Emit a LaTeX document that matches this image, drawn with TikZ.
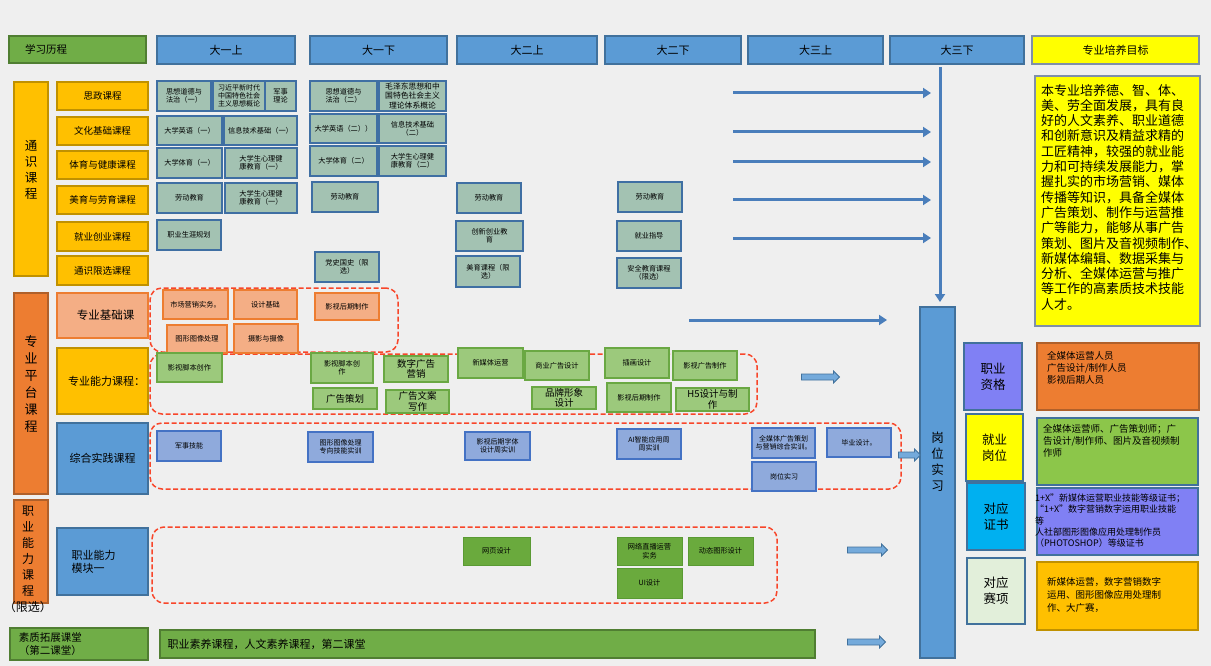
\documentclass[tikz,border=0pt]{standalone}
\usepackage{fontspec}
\setmainfont{Noto Sans CJK SC}
\usetikzlibrary{shapes.arrows,arrows.meta}
\definecolor{bg}{HTML}{EFEFEF}
\definecolor{hblue}{HTML}{5B9BD5}
\definecolor{hblueD}{HTML}{41719C}
\definecolor{gold}{HTML}{FFC000}
\definecolor{goldD}{HTML}{C09100}
\definecolor{org}{HTML}{ED7D31}
\definecolor{orgD}{HTML}{B0602A}
\definecolor{hgrn}{HTML}{70AD47}
\definecolor{hgrnD}{HTML}{507E32}
\definecolor{crsF}{HTML}{A3C2B2}
\definecolor{crsD}{HTML}{3F6FA3}
\definecolor{salF}{HTML}{F4AE85}
\definecolor{salD}{HTML}{ED7D31}
\definecolor{lgrF}{HTML}{9CC97C}
\definecolor{lgrD}{HTML}{6AA843}
\definecolor{dgrF}{HTML}{6AAA3D}
\definecolor{dgrD}{HTML}{5A9A33}
\definecolor{purF}{HTML}{8FAADC}
\definecolor{purD}{HTML}{4472C4}
\definecolor{dred}{HTML}{F8462A}
\definecolor{arrC}{HTML}{4A7EBB}
\definecolor{slate}{HTML}{8080F4}
\definecolor{cyanB}{HTML}{00B0F0}
\definecolor{ygrn}{HTML}{8CC64A}
\definecolor{ltgrn}{HTML}{E2EFDA}
\definecolor{yel}{HTML}{FFFF00}
\definecolor{goalD}{HTML}{7F8FA9}
\newcommand\fs[2]{\fontsize{#1}{#2}\selectfont}
\newcommand\bx[7]{\node[#2,minimum width={(#5-#3)*1pt},minimum height={(#6-#4)*1pt}] (#1) at ({(#3+#5)/2},{(#4+#6)/2}) {#7};}
\begin{document}
\begin{tikzpicture}[x=1pt,y=-1pt,
  every node/.style={inner sep=1pt,outer sep=0pt,align=center},
  hdr/.style={fill=hblue,draw=hblueD,line width=1.4pt,font=\fs{11}{12}},
  hdrg/.style={fill=hgrn,draw=hgrnD,line width=1.4pt,font=\fs{10.5}{12}},
  lab/.style={fill=gold,draw=goldD,line width=1.2pt,font=\fs{9.5}{11}},
  bigo/.style={fill=org,draw=orgD,line width=1.2pt},
  bigb/.style={fill=hblue,draw=hblueD,line width=1.2pt,font=\fs{11}{13}},
  crs/.style={fill=crsF,draw=crsD,line width=1.3pt,font=\fs{7.2}{8.3}},
  sal/.style={fill=salF,draw=salD,line width=1.3pt,font=\fs{7.2}{8.5}},
  lgr/.style={fill=lgrF,draw=lgrD,line width=1.3pt,font=\fs{7.2}{8.5}},
  lgrb/.style={lgr,font=\fs{9.5}{10.5}},
  dgr/.style={fill=dgrF,draw=dgrD,line width=1pt,font=\fs{7.2}{8.5}},
  pur/.style={fill=purF,draw=purD,line width=1.3pt,font=\fs{7}{8.3}},
  region/.style={draw=dred,line width=1.5pt,dash pattern=on 5pt off 2.5pt,rounded corners=12pt},
  arr/.style={draw=arrC,line width=3pt,-{Triangle[length=8pt,width=10pt]}},
  barr/.style={single arrow,fill=hblue!85!white,draw=hblueD,line width=0.8pt,minimum height=38pt,minimum width=12pt,single arrow head extend=3pt,inner xsep=0pt,inner ysep=2.6pt},
  side/.style={draw=hblueD,line width=1.2pt,font=\fs{12.5}{16}},
  info/.style={anchor=north west,align=left,font=\fs{9.5}{12.2},inner sep=0pt}]
\useasboundingbox (0,0) rectangle (1211,666);
\fill[bg] (0,0) rectangle (1211,666);
% headers
\bx{h0}{hdrg,text width=105pt,align=left}{9}{36}{146}{63}{学习历程}
\bx{h1}{hdr}{157}{36}{295}{64}{大一上}
\bx{h2}{hdr}{310}{36}{447}{64}{大一下}
\bx{h3}{hdr}{457}{36}{597}{64}{大二上}
\bx{h4}{hdr}{605}{36}{741}{64}{大二下}
\bx{h5}{hdr}{748}{36}{883}{64}{大三上}
\bx{h6}{hdr}{890}{36}{1024}{64}{大三下}
\bx{h7}{hdr,fill=yel,draw=goalD}{1032}{36}{1199}{64}{专业培养目标}
% left big categories
\bx{ts}{lab}{14}{82}{48}{276}{}
\node[font=\fs{12.5}{16}] (tsT) at (31,170) {通\\识\\课\\程};
\bx{zp}{bigo}{14}{293}{48}{494}{}
\node[font=\fs{13}{17}] (zpT) at (31,384) {专\\业\\平\\台\\课\\程};
\bx{zn}{bigo}{14}{500}{48}{603}{}
\node[font=\fs{12}{16}] (znT) at (28,559) {职\\业\\能\\力\\课\\程\\（限选）};
% sub labels
\bx{l1}{lab}{57}{82}{148}{110}{思政课程}
\bx{l2}{lab}{57}{117}{148}{145}{文化基础课程}
\bx{l3}{lab}{57}{151}{148}{179}{体育与健康课程}
\bx{l4}{lab}{57}{186}{148}{214}{美育与劳育课程}
\bx{l5}{lab}{57}{222}{148}{251}{就业创业课程}
\bx{l6}{lab}{57}{256}{148}{285}{通识限选课程}
\bx{l7}{fill=salF,draw=salD,line width=1.2pt,font=\fs{11.5}{13}}{57}{293}{148}{338}{\hspace*{6pt}专业基础课}
\bx{l8}{lab,font=\fs{11}{13}}{57}{348}{148}{414}{\hspace*{8pt}专业能力课程：}
\bx{l9}{bigb}{57}{423}{148}{494}{综合实践课程}
\bx{l10}{bigb,text width=62pt,align=left}{57}{528}{148}{595}{职业能力\\模块一}
\bx{l11}{hdrg,line width=1.2pt,text width=120pt,align=left,font=\fs{10.5}{13}}{10}{628}{148}{660}{素质拓展课堂\\（第二课堂）}
\bx{bar}{hdrg,line width=1.2pt,text width=640pt,align=left,font=\fs{11}{13}}{160}{630}{815}{658}{职业素养课程，人文素养课程，第二课堂}
% dashed regions
\bx{r1}{region}{150}{288}{398}{352}{}
\bx{r2}{region}{150}{354}{757}{414}{}
\bx{r3}{region}{150}{423}{901}{489}{}
\bx{r4}{region}{152}{527}{777}{603}{}
% general courses
\bx{c11}{crs}{157}{81}{211}{111}{思想道德与\\法治（一）}
\bx{c12}{crs,font=\fs{7}{8.2}}{213}{81}{265}{111}{习近平新时代\\中国特色社会\\主义思想概论}
\bx{c13}{crs}{265}{81}{296}{111}{军事\\理论}
\bx{c14}{crs}{310}{81}{377}{111}{思想道德与\\法治（二）}
\bx{c15}{crs,font=\fs{7.8}{9.2}}{379}{81}{446}{111}{毛泽东思想和中\\国特色社会主义\\理论体系概论}
\bx{c21}{crs}{157}{116}{222}{145}{大学英语（一）}
\bx{c22}{crs}{224}{116}{297}{145}{信息技术基础（一）}
\bx{c23}{crs}{310}{114}{377}{143}{大学英语（二））}
\bx{c24}{crs}{379}{114}{446}{143}{信息技术基础\\（二）}
\bx{c31}{crs}{157}{148}{222}{178}{大学体育（一）}
\bx{c32}{crs}{225}{148}{297}{178}{大学生心理健\\康教育（一）}
\bx{c33}{crs}{310}{146}{377}{176}{大学体育（二）}
\bx{c34}{crs}{379}{146}{446}{176}{大学生心理健\\康教育（二）}
\bx{c41}{crs}{157}{183}{222}{213}{劳动教育}
\bx{c42}{crs}{225}{183}{297}{213}{大学生心理健\\康教育（一）}
\bx{c43}{crs}{312}{182}{378}{212}{劳动教育}
\bx{c44}{crs}{457}{183}{521}{213}{劳动教育}
\bx{c45}{crs}{618}{182}{682}{212}{劳动教育}
\bx{c51}{crs}{157}{220}{221}{250}{职业生涯规划}
\bx{c52}{crs}{456}{221}{523}{251}{创新创业教\\育}
\bx{c53}{crs}{617}{221}{681}{251}{就业指导}
\bx{c61}{crs}{315}{252}{379}{282}{党史国史（限\\选）}
\bx{c62}{crs}{456}{256}{520}{287}{美育课程（限\\选）}
\bx{c63}{crs}{617}{258}{681}{288}{安全教育课程\\（限选）}
% professional basics
\bx{s1}{sal}{163}{290}{228}{319}{市场营销实务。}
\bx{s2}{sal}{234}{290}{297}{319}{设计基础}
\bx{s3}{sal}{315}{293}{379}{320}{影视后期制作}
\bx{s4}{sal}{167}{325}{227}{353}{图形图像处理}
\bx{s5}{sal}{234}{324}{298}{353}{摄影与摄像}
% professional ability
\bx{g1}{lgr}{157}{353}{222}{382}{影视脚本创作}
\bx{g2}{lgr}{311}{353}{373}{383}{影视脚本创\\作}
\bx{g3}{lgrb}{384}{356}{448}{382}{数字广告\\营销}
\bx{g4}{lgrb}{313}{388}{377}{409}{广告策划}
\bx{g5}{lgrb}{386}{390}{449}{413}{广告文案\\写作}
\bx{g6}{lgr}{458}{348}{523}{378}{新媒体运营}
\bx{g7}{lgr}{525}{351}{589}{380}{商业广告设计}
\bx{g8}{lgr}{605}{348}{669}{378}{插画设计}
\bx{g9}{lgr}{673}{351}{737}{380}{影视广告制作}
\bx{g10}{lgrb}{532}{387}{596}{409}{品牌形象\\设计}
\bx{g11}{lgr}{607}{383}{671}{412}{影视后期制作}
\bx{g12}{lgrb}{676}{388}{749}{411}{H5设计与制\\作}
% practice
\bx{p1}{pur}{157}{431}{221}{461}{军事技能}
\bx{p2}{pur}{308}{432}{373}{462}{图形图像处理\\专向技能实训}
\bx{p3}{pur}{465}{432}{530}{460}{影视后期字体\\设计周实训}
\bx{p4}{pur}{617}{429}{681}{459}{AI智能应用周\\周实训}
\bx{p5}{pur}{752}{428}{815}{458}{全媒体广告策划\\与营销综合实训。}
\bx{p6}{pur}{827}{428}{891}{457}{毕业设计。}
\bx{p7}{pur}{752}{462}{816}{491}{岗位实习}
% vocational module
\bx{d1}{dgr}{463}{537}{530}{565}{网页设计}
\bx{d2}{dgr}{617}{537}{682}{565}{网络直播运营\\实务}
\bx{d3}{dgr}{688}{537}{753}{565}{动态图形设计}
\bx{d4}{dgr}{617}{568}{682}{598}{UI设计}
% internship column
\bx{gw}{fill=hblue,draw=hblueD,line width=1.2pt}{920}{307}{955}{658}{}
\node[font=\fs{12.5}{16}] (gwT) at (937.5,462) {岗\\位\\实\\习};
% arrows
\coordinate (v0) at (940,67);
\coordinate (v1) at (940,302);
\draw[arr] (v0) -- (v1);
\foreach \i/\yy in {1/93,2/132,3/162,4/200,5/238}{
  \coordinate (as\i) at (733,\yy);
  \coordinate (ae\i) at (931,\yy);
  \draw[arr] (as\i) -- (ae\i);
}
\coordinate (bs) at (689,320);
\coordinate (be) at (887,320);
\draw[arr] (bs) -- (be);
\node[barr] (ba1) at (819,377) {};
\node[barr,minimum height=22pt] (ba2) at (908,455) {};
\node[barr,minimum height=40pt] (ba3) at (866,550) {};
\node[barr] (ba4) at (865,642) {};
% goal
\bx{goal}{fill=yel,draw=goalD,line width=1.4pt}{1035}{76}{1200}{326}{}
\node[anchor=north west,align=left,inner sep=0pt,font=\fs{13}{15.3}] (goalT) at (1041,84)
 {本专业培养德、智、体、\\美、劳全面发展，具有良\\好的人文素养、职业道德\\和创新意识及精益求精的\\工匠精神，较强的就业能\\力和可持续发展能力，掌\\握扎实的市场营销、媒体\\传播等知识，具备全媒体\\广告策划、制作与运营推\\广等能力，能够从事广告\\策划、图片及音视频制作、\\新媒体编辑、数据采集与\\分析、全媒体运营与推广\\等工作的高素质技术技能\\人才。};
% outcomes
\bx{q1}{side,fill=slate}{964}{343}{1022}{410}{职业\\资格}
\bx{q1b}{fill=org,draw=orgD,line width=1.2pt}{1037}{343}{1199}{410}{}
\node[info] (q1t) at (1047,351) {全媒体运营人员\\广告设计/制作人员\\影视后期人员};
\bx{q2}{side,fill=yel}{966}{414}{1023}{481}{就业\\岗位}
\bx{q2b}{fill=ygrn,draw=hblueD,line width=1.2pt}{1037}{418}{1198}{485}{}
\node[info] (q2t) at (1043,424) {全媒体运营师、广告策划师；广\\告设计/制作师、图片及音视频制\\作师};
\bx{q3}{side,fill=cyanB}{967}{483}{1025}{550}{对应\\证书}
\bx{q3b}{fill=slate,draw=hblueD,line width=1.2pt}{1037}{488}{1198}{555}{}
\node[info,font=\fs{9}{11.3}] (q3t) at (1035,494) {1+X”新媒体运营职业技能等级证书；\\“1+X”数字营销数字运用职业技能\\等\\人社部图形图像应用处理制作员\\（PHOTOSHOP）等级证书};
\bx{q4}{side,fill=ltgrn}{967}{558}{1025}{624}{对应\\赛项}
\bx{q4b}{fill=gold,draw=goldD,line width=1.2pt}{1037}{562}{1198}{630}{}
\node[info,font=\fs{9.5}{13}] (q4t) at (1047,577) {新媒体运营，数字营销数字\\运用、图形图像应用处理制\\作、大广赛，};
\end{tikzpicture}
\end{document}
